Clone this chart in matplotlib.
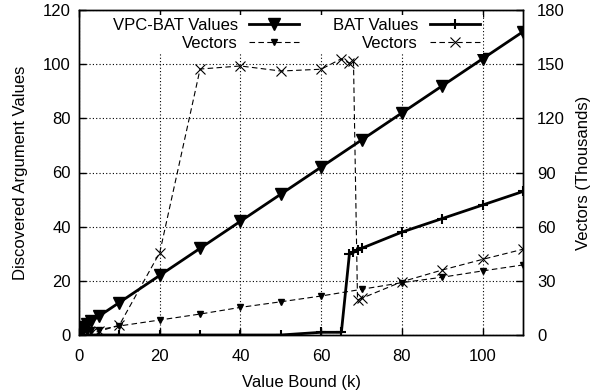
import matplotlib
matplotlib.use("Agg")
import matplotlib.pyplot as plt

plt.rcParams['font.family'] = ['Liberation Sans', 'DejaVu Sans']

# VPC-BAT
vpc_x = [0, 1, 2, 3, 5, 10, 20, 30, 40, 50, 60, 70, 80, 90, 100, 110]
vpc_values = [2, 3, 4, 5, 7, 12, 22, 32, 42, 52, 62, 72, 82, 92, 102, 112]
vpc_vectors = [1, 1.5, 2, 2.5, 3, 5, 8.3, 11.6, 15.3, 18.4, 21.6, 25.3, 29, 32, 35.5, 38.8]

# BAT
bat_x = [0, 1, 2, 3, 5, 10, 20, 30, 40, 50, 60, 65, 67, 68, 69, 70, 80, 90, 100, 110]
bat_values = [0, 0, 0, 0, 0, 0, 0, 0, 0, 0, 1, 1, 30, 30.5, 31.5, 32, 38, 43, 48, 53]
bat_vectors = [0.5, 0.8, 1, 1.2, 2, 5.5, 45.6, 147.3, 149, 146.2, 147.2, 153, 150.5, 152,
               19.4, 20.3, 29.5, 36, 41.9, 47.5]

x_ticks = [0, 20, 40, 60, 80, 100]
y_ticks = [0, 20, 40, 60, 80, 100, 120]
y2_ticks = [0, 30, 60, 90, 120, 150, 180]

fig = plt.figure(figsize=(5.93, 3.92), dpi=100)
ax = fig.add_axes([79/593, 57/392, 444/593, 325/392])
ax2 = ax.twinx()

l1, = ax.plot(vpc_x, vpc_values, color='black', lw=2, marker='v', ms=9,
              label='VPC-BAT Values', zorder=3)
l2, = ax2.plot(vpc_x, vpc_vectors, color='black', lw=0.8, ls=(0, (5, 3)), marker='v', ms=5,
               label='Vectors', zorder=3)
l3, = ax.plot(bat_x, bat_values, color='black', lw=2, marker='+', ms=7, mew=1.5,
              label='BAT Values', zorder=3)
l4, = ax2.plot(bat_x, bat_vectors, color='black', lw=0.8, ls=(0, (5, 3)), marker='x', ms=7, mew=0.8,
               label='Vectors', zorder=3)

ax.set_xlim(0, 110)
ax.set_ylim(0, 120)
ax2.set_ylim(0, 180)
ax.set_xticks(x_ticks)
ax.set_yticks(y_ticks)
ax2.set_yticks(y2_ticks)

ax.grid(True, color='black', ls=(0, (1, 2)), lw=0.8)
ax.tick_params(direction='in', length=5, top=True, right=False, labelsize=12, width=1)
ax.tick_params(axis='x', pad=10)
ax.tick_params(axis='y', pad=6)
ax2.tick_params(direction='in', length=5, labelsize=12, width=1, pad=10)
for a in (ax, ax2):
    for s in a.spines.values():
        s.set_linewidth(1)
        s.set_zorder(20)

ax.set_xlabel('Value Bound (k)', fontsize=12, labelpad=8)
ax.set_ylabel('Discovered Argument Values', fontsize=12, labelpad=11)
ax2.set_ylabel('Vectors (Thousands)', fontsize=12, rotation=90, labelpad=8)

leg = ax2.legend([l1, l2, l3, l4], ['VPC-BAT Values', 'Vectors', 'BAT Values', 'Vectors'],
                 ncol=2, markerfirst=False, loc='upper right', bbox_to_anchor=(0.91, 0.985),
                 fontsize=12, frameon=True, fancybox=False, edgecolor='none', facecolor='white',
                 framealpha=1, handlelength=3, handletextpad=0.7, columnspacing=2,
                 labelspacing=0.15, borderpad=0.2, borderaxespad=0)
leg.set_zorder(10)

fig.savefig('out.png', dpi=100)
